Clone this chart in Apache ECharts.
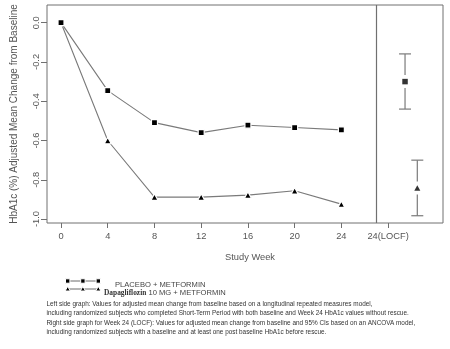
<!DOCTYPE html>
<html>
<head>
<meta charset="utf-8">
<script src="https://cdn.jsdelivr.net/npm/echarts@6/dist/echarts.min.js"></script>
<style>
  html, body { margin: 0; padding: 0; background: #fff; }
  #chart { width: 450px; height: 349px; }
</style>
</head>
<body>
<div id="chart"></div>
<script>
// Study weeks with repeated-measures estimates
const weeks = [0, 4, 8, 12, 16, 20, 24];
const placeboValues = [0, -0.346, -0.509, -0.56, -0.522, -0.534, -0.546];
const dapaValues = [0, -0.60, -0.888, -0.888, -0.878, -0.856, -0.924];

// Week 24 (LOCF) ANCOVA estimates: [x position, mean, lower 95% CI, upper 95% CI]
const placeboLocf = [29.45, -0.30, -0.44, -0.159];
const dapaLocf = [30.5, -0.842, -0.983, -0.70];

// Axis ticks
const xTickValues = [0, 4, 8, 12, 16, 20, 24, 28];
const xTickLabels = ['0', '4', '8', '12', '16', '20', '24', '24(LOCF)'];
const yTickValues = [0, -0.2, -0.4, -0.6, -0.8, -1.0];
const yTickLabels = ['0.0', '-0.2', '-0.4', '-0.6', '-0.8', '-1.0'];

const footnotes = [
  'Left side graph: Values for adjusted mean change from baseline based on a longitudinal repeated measures model,',
  'including randomized subjects who completed Short-Term Period with both baseline and Week 24 HbA1c values without rescue.',
  'Right side graph for Week 24 (LOCF): Values for adjusted mean change from baseline and 95% CIs based on an ANCOVA model,',
  'including randomized subjects with a baseline and at least one post baseline HbA1c before rescue.'
];

const axisGray = '#707070';
const lineGray = '#7a7a7a';
const textGray = '#555';
const font = 'Liberation Sans, Arial, sans-serif';

const chart = echarts.init(document.getElementById('chart'), null, { renderer: 'canvas' });

function errorBar(params, api) {
  const x = api.value(0);
  const mean = api.value(1);
  const lo = api.value(2);
  const hi = api.value(3);
  const pm = api.coord([x, mean]);
  const pl = api.coord([x, lo]);
  const ph = api.coord([x, hi]);
  const cap = 6;
  const gap = 6.5;
  const style = { stroke: lineGray, lineWidth: 1.2 };
  return {
    type: 'group',
    children: [
      { type: 'line', shape: { x1: ph[0], y1: ph[1], x2: ph[0], y2: pm[1] - gap }, style },
      { type: 'line', shape: { x1: pl[0], y1: pm[1] + gap, x2: pl[0], y2: pl[1] }, style },
      { type: 'line', shape: { x1: ph[0] - cap, y1: ph[1], x2: ph[0] + cap, y2: ph[1] }, style },
      { type: 'line', shape: { x1: pl[0] - cap, y1: pl[1], x2: pl[0] + cap, y2: pl[1] }, style }
    ]
  };
}

const graphics = [];
// legend rows
const legendRows = [
  { y: 281, symbol: 'rect' },
  { y: 289, symbol: 'triangle' }
];
legendRows.forEach(function (row) {
  const xs = [67.7, 82.9, 98.3];
  graphics.push({
    type: 'line', silent: true,
    shape: { x1: xs[0], y1: row.y, x2: xs[2], y2: row.y },
    style: { stroke: '#444', lineWidth: 0.8 }
  });
  xs.forEach(function (x) {
    if (row.symbol === 'rect') {
      graphics.push({ type: 'rect', silent: true, shape: { x: x - 2.2, y: row.y - 2.2, width: 4.4, height: 4.4 },
        style: { fill: '#000', stroke: '#fff', lineWidth: 1 } });
    } else {
      graphics.push({ type: 'polygon', silent: true,
        shape: { points: [[x, row.y - 2.6], [x - 2.6, row.y + 2], [x + 2.6, row.y + 2]] },
        style: { fill: '#000', stroke: '#fff', lineWidth: 1 } });
    }
  });
});
graphics.push({
  type: 'text', left: 115, top: 281, silent: true,
  style: { text: 'PLACEBO + METFORMIN', fill: '#444', font: '7.6px ' + font, verticalAlign: 'middle' }
});
graphics.push({
  type: 'text', left: 104, top: 289, silent: true,
  style: {
    text: '{b|Dapagliflozin}{n| 10 MG + METFORMIN}',
    verticalAlign: 'middle',
    rich: {
      b: { fontFamily: 'Liberation Serif, Times New Roman, serif', fontWeight: 'bold', fontSize: 7.4, fill: '#333' },
      n: { fontFamily: font, fontSize: 7.6, fill: '#444' }
    }
  }
});
const noteY = [305, 314.6, 324.2, 333.4];
footnotes.forEach(function (t, i) {
  graphics.push({
    type: 'text', left: 46.5, top: noteY[i] - 4, silent: true,
    style: { text: t, fill: '#333', font: '6.4px ' + font }
  });
});

chart.setOption({
  animation: false,
  backgroundColor: '#fff',
  grid: {
    left: 47, right: 7, top: 5, bottom: 126,
    show: true, borderColor: axisGray, borderWidth: 1, backgroundColor: 'transparent'
  },
  xAxis: {
    type: 'value',
    min: -1.2, max: 32.7,
    splitLine: { show: false },
    axisLine: { show: false, onZero: false },
    axisTick: {
      show: true, length: 5, inside: false,
      customValues: xTickValues,
      lineStyle: { color: axisGray }
    },
    axisLabel: {
      show: true,
      customValues: xTickValues,
      formatter: function (v) {
        const i = xTickValues.indexOf(v);
        return i >= 0 ? xTickLabels[i] : '';
      },
      color: textGray, fontFamily: font, fontSize: 9.3, margin: 9
    },
    name: 'Study Week',
    nameLocation: 'middle',
    nameGap: 30,
    nameTextStyle: { color: textGray, fontFamily: font, fontSize: 9.3, padding: [0, 0, 0, 10] }
  },
  yAxis: {
    type: 'value',
    min: -1.02, max: 0.09,
    splitLine: { show: false },
    axisLine: { show: false, onZero: false },
    axisTick: {
      show: true, length: 6,
      customValues: yTickValues,
      lineStyle: { color: axisGray }
    },
    axisLabel: {
      show: true,
      customValues: yTickValues,
      rotate: 90,
      formatter: function (v) {
        for (let i = 0; i < yTickValues.length; i++) {
          if (Math.abs(yTickValues[i] - v) < 1e-6) return yTickLabels[i];
        }
        return '';
      },
      color: textGray, fontFamily: font, fontSize: 9.3, margin: 6
    },
    name: 'HbA1c (%) Adjusted Mean Change from Baseline',
    nameLocation: 'middle',
    nameGap: 28,
    nameRotate: 90,
    nameTextStyle: { color: textGray, fontFamily: font, fontSize: 10 }
  },
  series: [
    {
      name: 'Dapagliflozin 10 MG + METFORMIN',
      type: 'line',
      data: weeks.map(function (w, i) { return [w, dapaValues[i]]; }),
      symbol: 'triangle',
      symbolSize: [7, 6.5],
      itemStyle: { color: '#000', borderColor: '#fff', borderWidth: 1.2 },
      lineStyle: { color: lineGray, width: 1.1 },
      z: 2,
      markLine: {
        silent: true,
        symbol: ['none', 'none'],
        label: { show: false },
        lineStyle: { color: axisGray, width: 1.2, type: 'solid' },
        data: [{ xAxis: 27 }]
      }
    },
    {
      name: 'PLACEBO + METFORMIN',
      type: 'line',
      data: weeks.map(function (w, i) { return [w, placeboValues[i]]; }),
      symbol: 'rect',
      symbolSize: 6,
      itemStyle: { color: '#000', borderColor: '#fff', borderWidth: 1.2 },
      lineStyle: { color: lineGray, width: 1.1 },
      z: 3
    },
    {
      type: 'custom',
      renderItem: errorBar,
      data: [placeboLocf, dapaLocf],
      silent: true,
      z: 2
    },
    {
      type: 'scatter',
      data: [[placeboLocf[0], placeboLocf[1]]],
      symbol: 'rect',
      symbolSize: 5.5,
      itemStyle: { color: '#000' },
      z: 3
    },
    {
      type: 'scatter',
      data: [[dapaLocf[0], dapaLocf[1]]],
      symbol: 'triangle',
      symbolSize: [6, 5.5],
      itemStyle: { color: '#000' },
      z: 3
    }
  ],
  graphic: graphics
});
</script>
</body>
</html>
